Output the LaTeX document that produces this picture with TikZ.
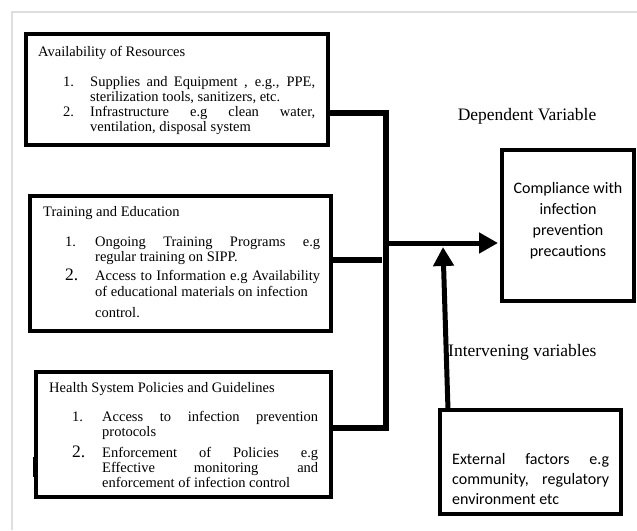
\documentclass[tikz,border=0pt]{standalone}
\usepackage{fontspec}
\setmainfont{Liberation Serif}
\newfontfamily\carlito{Carlito}
\usetikzlibrary{calc}
\usetikzlibrary{arrows.meta}
\definecolor{framegray}{RGB}{222,222,222}

\begin{document}
\begin{tikzpicture}[x=1pt, y=-1pt,
  Box/.style={draw, line width=4pt, inner sep=0pt, outer sep=0pt, anchor=north west},
  Head/.style={anchor=base west, inner sep=0pt, font=\fontsize{14.5}{15}\selectfont},
  Num/.style={anchor=base west, inner sep=0pt, font=\fontsize{14.5}{15}\selectfont},
  BigNum/.style={anchor=base west, inner sep=0pt, font=\fontsize{17.5}{15}\selectfont},
  Item/.style={anchor=base west, inner sep=0pt, text width=225pt, align=justify, font=\fontsize{14.5}{15}\selectfont},
  Link/.style={line width=5.5pt},
  Pfeil/.style={line width=5pt, arrows = -{Triangle[length=19pt, width=20pt]}}]
				\useasboundingbox (0,0) rectangle (637,530);
				\draw[framegray, line width=1.5pt] (637,12) -- (12,12) -- (12,530);
				% independent variables
				\node[Box, minimum width=302pt, minimum height=111pt] (res) at (26,34) {};
				\node[Head] (resHead) at (38,56) {Availability of Resources};
				\node[Num] (resN1) at (63,86) {1.};
				\node[Item] (resI1) at (90,86) {Supplies and Equipment , e.g., PPE,\linebreak sterilization tools, sanitizers, etc.};
				\node[Num] (resN2) at (63,116) {2.};
				\node[Item] (resI2) at (90,116) {Infrastructure e.g clean water,\linebreak ventilation, disposal system};
				\node[Box, minimum width=301pt, minimum height=135pt] (train) at (30,196) {};
				\node[Head] (trainHead) at (43,216) {Training and Education};
				\node[Num] (trainN1) at (65,246) {1.};
				\node[Item] (trainI1) at (95,246) {Ongoing Training Programs e.g\linebreak regular training on SIPP.};
				\node[BigNum] (trainN2) at (65,280) {2.};
				\node[Item, font=\fontsize{14.5}{16}\selectfont] (trainI2) at (95,280) {Access to Information e.g Availability\linebreak of educational materials on infection\\[5pt] control.};
				\node[Box, minimum width=295pt, minimum height=125pt] (pol) at (36,372) {};
				\node[Head] (polHead) at (49,392) {Health System Policies and Guidelines};
				\node[Num] (polN1) at (72,421) {1.};
				\node[Item, text width=216pt] (polI1) at (102,421) {Access to infection prevention\linebreak protocols};
				\node[BigNum] (polN2) at (72,457) {2.};
				\node[Item, text width=216pt] (polI2) at (102,457) {\parfillskip=0pt Enforcement of Policies e.g\linebreak Effective monitoring and\linebreak enforcement of infection control};
				\draw[line width=2pt] ($(pol.north west)+(-2,85)$) -- ($(pol.north west)+(-2,105)$);
				% dependent variable
				\node[Box, minimum width=132pt, minimum height=151pt] (dep) at (502,150) {};
				\node[align=center, font=\carlito\fontsize{16}{21}\selectfont] (depText) at (568,221) {Compliance with\\ infection\\ prevention\\ precautions};
				\node[anchor=base, font=\fontsize{17.5}{19}\selectfont] (depLabel) at (527,120) {Dependent Variable};
				% intervening variables
				\node[Box, minimum width=181pt, minimum height=104pt] (ext) at (440,410) {};
				\node[anchor=base west, inner sep=0pt, text width=157pt, align=justify, font=\carlito\fontsize{16}{20}\selectfont] (extText) at (452,464) {External factors e.g\linebreak community, regulatory\linebreak environment etc};
				\node[anchor=base west, inner sep=0pt, font=\fontsize{17.5}{19}\selectfont] (extLabel) at (448,356) {Intervening variables};
				% connectors
				\coordinate (busTop) at (386,113);
				\coordinate (busBot) at (386,428);
				\coordinate (jn) at (386,243);
				\coordinate (trainEnd) at (382,260);
				\coordinate (extFoot) at (448,410);
				\coordinate (extTip) at (443,247);
				\draw[Link] (res.east |- busTop) -- (busTop) -- (busBot) -- (pol.east |- busBot);
				\draw[Link] (train.east |- trainEnd) -- (trainEnd);
				\draw[Pfeil] (jn) -- ($(dep.west |- jn) - (4,0)$);
				\draw[Pfeil] (extFoot) -- (extTip);
			\end{tikzpicture}
\end{document}
